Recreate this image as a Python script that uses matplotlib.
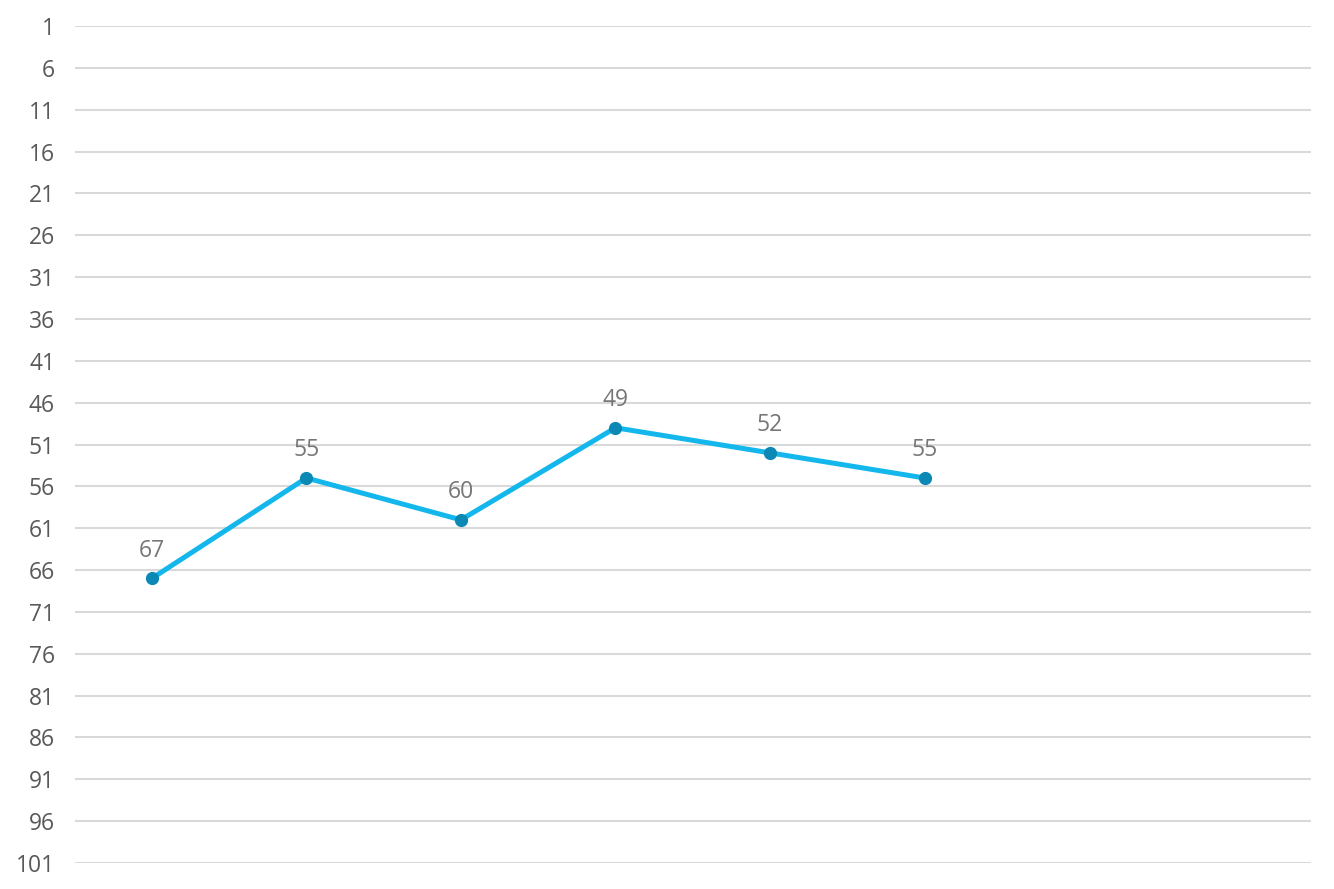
import matplotlib.pyplot as plt

# Category slots (8 on the axis, 6 with data)
n_slots = 8
positions = [0, 1, 2, 3, 4, 5]
values = [67, 55, 60, 49, 52, 55]
y_ticks = list(range(1, 102, 5))

plt.rcParams['font.family'] = ['Open Sans', 'DejaVu Sans']

fig = plt.figure(figsize=(13.34, 8.89), dpi=100)
ax = fig.add_axes([74.5 / 1334, 1 - 863 / 889, (1311 - 74.5) / 1334, (863 - 26) / 889])

# Line with markers
ax.plot(positions, values, color='#13B7EC', linewidth=3.6, zorder=3,
        solid_capstyle='round', solid_joinstyle='round')
ax.plot(positions, values, linestyle='none', marker='o', markersize=8.5,
        color='#0C88B5', zorder=4)

# Data labels above each point
for x, y in zip(positions, values):
    ax.annotate(str(y), (x, y), textcoords="offset points", xytext=(0, 20),
                ha='center', va='center', fontsize=16.5, color='#767676')

# Inverted axis, 1 at the top
ax.set_ylim(101, 1)
ax.set_yticks(y_ticks)
ax.set_xlim(-0.5, n_slots - 0.5)
ax.set_xticks([])

ax.grid(True, axis='y', color='#D9D9D9', linewidth=1.5, zorder=0)
for s in ax.spines.values():
    s.set_visible(False)
ax.tick_params(axis='y', length=0, pad=14, labelsize=16.5, labelcolor='#595959')

fig.savefig('out.png', dpi=100)
